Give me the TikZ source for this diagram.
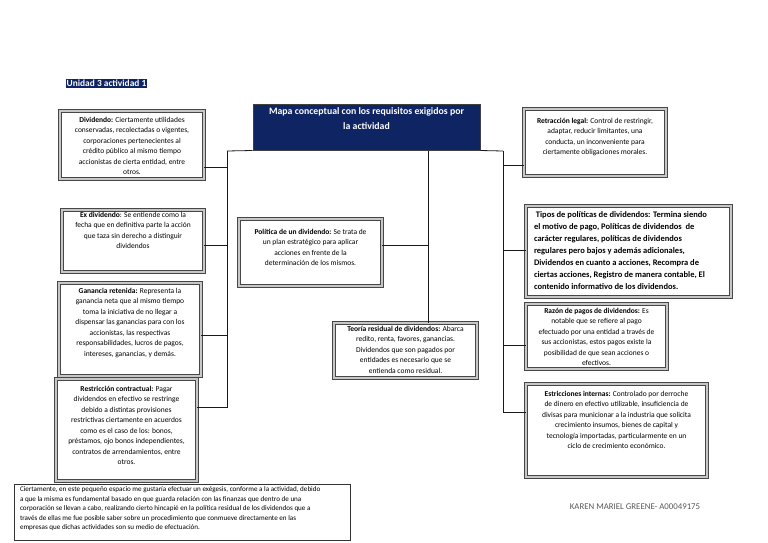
\documentclass[tikz,border=0pt]{standalone}
\usepackage{fontspec}
\setmainfont{Carlito}
\definecolor{navy}{HTML}{0E2463}
\newcommand{\bt}[4]{\parbox[c][#2pt][t]{#1pt}{\vspace*{#3pt}\centering #4\par}}
\newcommand{\btl}[4]{\parbox[c][#2pt][t]{#1pt}{\vspace*{#3pt}\raggedright #4\par}}
\begin{document}
\begin{tikzpicture}[x=1pt,y=-1pt,
  cbox/.style={draw=black!72, double=black!22, double distance=1.5pt, line width=0.85pt,
    fill=white, inner xsep=4pt, inner ysep=0pt, font=\fontsize{7.5}{10.5}\selectfont},
  conn/.style={draw=black!90, line width=0.8pt},
  titlebox/.style={draw=black!75, line width=1pt, fill=navy, text=white, inner xsep=4pt,
    inner ysep=0pt, font=\bfseries\fontsize{9.8}{15}\selectfont},
  footbox/.style={draw=black!80, line width=0.7pt, fill=white, inner xsep=6pt, inner ysep=0pt,
    font=\fontsize{7.1}{9.6}\selectfont}]
\useasboundingbox[fill=white] (0,0) rectangle (768,543);

% label
\node[fill=navy, text=white, font=\bfseries\fontsize{9.4}{10}\selectfont, inner xsep=1pt, inner ysep=1.5pt] (lab) at (106.5,83.5) {Unidad 3 actividad 1};

% title
\node[titlebox] (main) at (366.5,127) {\bt{219}{46}{4}{Mapa conceptual con los requisitos exigidos por\\la actividad}};

% left column
\node[cbox] (div) at (132,145) {\bt{136}{68}{6}{\textbf{Dividendo:} Ciertamente utilidades\\conservadas, recolectadas o vigentes,\\corporaciones pertenecientes al\\crédito público al mismo tiempo\\accionistas de cierta entidad, entre\\otros.}};
\node[cbox] (exd) at (133,241) {\bt{134}{62}{2}{\textbf{Ex dividendo}: Se entiende como la\\fecha que en definitiva parte la acción\\que taza sin derecho a distinguir\\dividendos}};
\node[cbox] (gan) at (130,329.5) {\bt{134}{93}{5}{\textbf{Ganancia retenida:} Representa la\\ganancia neta que al mismo tiempo\\toma la iniciativa de no llegar a\\dispensar las ganancias para con los\\accionistas, las respectivas\\responsabilidades, lucros de pagos,\\intereses, ganancias, y demás.}};
\node[cbox] (res) at (126.5,430) {\bt{133}{102}{7}{\textbf{Restricción contractual:} Pagar\\dividendos en efectivo se restringe\\debido a distintas provisiones\\restrictivas ciertamente en acuerdos\\como es el caso de los: bonos,\\préstamos, ojo bonos independientes,\\contratos de arrendamientos, entre\\otros.}};

% centre
\node[cbox] (pol) at (310.5,252.5) {\bt{135}{67}{10}{\textbf{Política de un dividendo:} Se trata de\\un plan estratégico para aplicar\\acciones en frente de la\\determinación de los mismos.}};
\node[cbox] (teo) at (405.5,350.5) {\bt{135}{55}{3}{\textbf{Teoría residual de dividendos:} Abarca\\redito, renta, favores, ganancias.\\Dividendos que son pagados por\\entidades es necesario que se\\entienda como residual.}};

% right column
\node[cbox] (ret) at (595,142.5) {\bt{134}{67}{9}{\textbf{Retracción legal:} Control de restringir,\\adaptar, reducir limitantes, una\\conducta, un inconveniente para\\ciertamente obligaciones morales.}};
\node[cbox, inner xsep=8pt, font=\bfseries\fontsize{8.5}{12}\selectfont] (tip) at (628.5,251.5) {\btl{189}{91}{6}{\ Tipos de políticas de dividendos: Termina siendo\\el motivo de pago, Políticas de dividendos \ de\\carácter regulares, políticas de dividendos\\regulares pero bajos y además adicionales,\\Dividendos en cuanto a acciones, Recompra de\\ciertas acciones, Registro de manera contable, El\\contenido informativo de los dividendos.}};
\node[cbox] (raz) at (596.5,336.5) {\bt{133}{65}{4}{\textbf{Razón de pagos de dividendos:} Es\\notable que se refiere al pago\\efectuado por una entidad a través de\\sus accionistas, estos pagos existe la\\posibilidad de que sean acciones o\\efectivos.}};
\node[cbox] (est) at (616.5,430.5) {\bt{173}{93}{7}{\textbf{Estricciones internas:} Controlado por derroche\\de dinero en efectivo utilizable, insuficiencia de\\divisas para municionar a la industria que solicita\\crecimiento insumos, bienes de capital y\\tecnología importadas, particularmente en un\\ciclo de crecimiento económico.}};

% footer
\node[footbox] (foot) at (182,512.5) {\btl{324}{56}{2}{Ciertamente, en este pequeño espacio me gustaría efectuar un exégesis, conforme a la actividad, debido\\a que la misma es fundamental basado en que guarda relación con las finanzas que dentro de una\\corporación se llevan a cabo, realizando cierto hincapié en la política residual de los dividendos que a\\través de ellas me fue posible saber sobre un procedimiento que conmueve directamente en las\\empresas que dichas actividades son su medio de efectuación.}};

\node[text=black!65, font=\fontsize{8.8}{10}\selectfont, inner sep=0pt] (auth) at (635,507) {KAREN MARIEL GREENE- A00049175};

% connectors
\coordinate (lt) at (227,151);
\coordinate (ct) at (428,151);
\coordinate (rt) at (503,151);
\draw[conn] (main.south west) -- (lt);
\draw[conn] ([yshift=-22pt]div.east) -| (lt);
\draw[conn] ([yshift=-4pt]exd.east) -| (lt);
\draw[conn] ([yshift=-5.5pt]gan.east) -| (lt);
\draw[conn] ([yshift=23pt]res.east) -| (lt);
\draw[conn] (ct) -- (ct |- teo.north);
\draw[conn] ([yshift=7.5pt]pol.east) -| (ct);
\draw[conn] (main.south east) -- (rt);
\draw[conn] ([yshift=-22.5pt]ret.west) -| (rt);
\draw[conn] ([yshift=1.5pt]tip.west) -| (rt);
\draw[conn] ([yshift=-8.5pt]raz.west) -| (rt);
\draw[conn] ([yshift=18.5pt]est.west) -| (rt);
\end{tikzpicture}
\end{document}
